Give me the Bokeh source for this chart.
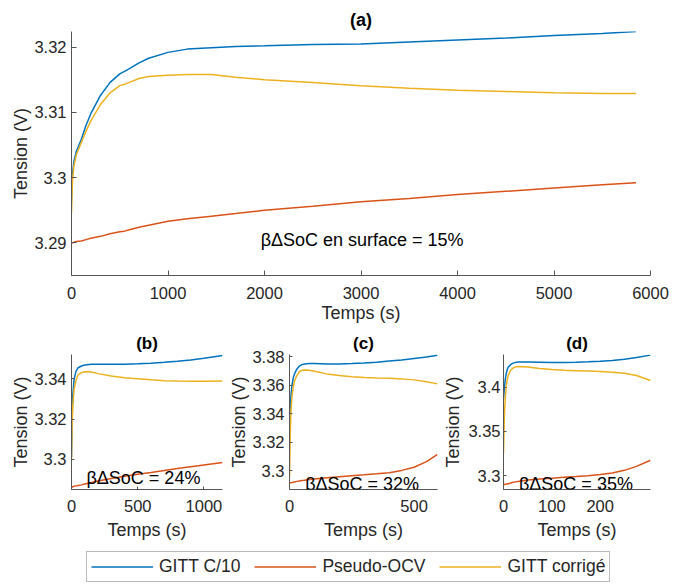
from bokeh.plotting import figure
from bokeh.layouts import column, row
from bokeh.models import Range1d, FixedTicker, Label
from bokeh.embed import file_html
from bokeh.resources import INLINE

BLUE = "#0072BD"
RED = "#D95319"
YEL = "#EDB120"
FONT = "Liberation Sans"
TXT = "#262626"
AX = "#555555"

# ---------------- data ----------------
series_names = ["GITT C/10", "Pseudo-OCV", "GITT corrigé"]

# (a)
t_a = [0, 10, 25, 50, 100, 150, 200, 300, 400, 500, 550, 600, 700, 800, 1000, 1200,
       1450, 1700, 2000, 2500, 3000, 3500, 4000, 4500, 5000, 5500, 5850]
gitt_a = [3.2965, 3.3005, 3.3025, 3.3040, 3.3058, 3.3080, 3.3098, 3.3126, 3.3146, 3.3159,
          3.3163, 3.3167, 3.3176, 3.3183, 3.3192, 3.3197, 3.3199, 3.3201, 3.3202, 3.3204,
          3.3205, 3.3208, 3.3211, 3.3214, 3.3218, 3.3221, 3.3224]
ocv_a = [3.2900, 3.2900, 3.2901, 3.2902, 3.2903, 3.2905, 3.2907, 3.2910, 3.2914, 3.2917,
         3.2918, 3.2920, 3.2924, 3.2927, 3.2933, 3.2937, 3.2941, 3.2945, 3.2950, 3.2956,
         3.2963, 3.2968, 3.2974, 3.2979, 3.2984, 3.2989, 3.2992]
corr_a = [3.2946, 3.2995, 3.3018, 3.3035, 3.3053, 3.3071, 3.3087, 3.3112, 3.3130, 3.3141,
          3.3143, 3.3146, 3.3152, 3.3155, 3.3157, 3.3158, 3.3158, 3.3154, 3.3150, 3.3146,
          3.3141, 3.3137, 3.3134, 3.3132, 3.3130, 3.3129, 3.3129]

# (b)
t_b = [0, 5, 10, 20, 35, 50, 75, 100, 150, 200, 300, 400, 500, 600, 700, 800, 900, 1000, 1140]
gitt_b = [3.301, 3.322, 3.332, 3.340, 3.3440, 3.3455, 3.3464, 3.3469, 3.3472, 3.3473, 3.3473,
          3.3473, 3.3475, 3.3478, 3.3482, 3.3487, 3.3494, 3.3502, 3.3516]
ocv_b = [3.2860, 3.2862, 3.2864, 3.2866, 3.2868, 3.2870, 3.2873, 3.2877, 3.2885, 3.2892,
         3.2905, 3.2916, 3.2926, 3.2935, 3.2945, 3.2954, 3.2963, 3.2972, 3.2984]
corr_b = [3.300, 3.318, 3.327, 3.335, 3.3395, 3.3420, 3.3431, 3.3435, 3.3434, 3.3426, 3.3414,
          3.3405, 3.3400, 3.3395, 3.3391, 3.3389, 3.3388, 3.3388, 3.3389]

# (c)
t_c = [0, 3, 6, 10, 15, 20, 30, 40, 50, 60, 80, 100, 150, 200, 250, 300, 350, 400, 450,
       500, 550, 594]
gitt_c = [3.333, 3.345, 3.353, 3.360, 3.365, 3.368, 3.3715, 3.3735, 3.3745, 3.3750, 3.3752,
          3.3752, 3.3750, 3.3750, 3.3752, 3.3756, 3.3762, 3.3770, 3.3778, 3.3788, 3.3798, 3.3810]
ocv_c = [3.2915, 3.2916, 3.2917, 3.2918, 3.2920, 3.2922, 3.2926, 3.2929, 3.2932, 3.2934,
         3.2939, 3.2943, 3.2952, 3.2959, 3.2966, 3.2972, 3.2979, 3.2987, 3.3003, 3.3025,
         3.3065, 3.3115]
corr_c = [3.2955, 3.325, 3.342, 3.352, 3.359, 3.363, 3.367, 3.3695, 3.3705, 3.3708, 3.3705,
          3.3698, 3.3680, 3.3668, 3.3660, 3.3655, 3.3652, 3.3650, 3.3645, 3.3638, 3.3625, 3.3610]

# (d)
t_d = [0, 2, 4, 6, 8, 10, 15, 20, 25, 30, 40, 50, 75, 100, 125, 150, 175, 200, 225, 250,
       275, 304]
gitt_d = [3.386, 3.400, 3.410, 3.416, 3.420, 3.4225, 3.4255, 3.4270, 3.4278, 3.4282, 3.4283,
          3.4282, 3.4280, 3.4278, 3.4278, 3.4280, 3.4284, 3.4290, 3.4300, 3.4314, 3.4334, 3.4360]
ocv_d = [3.2897, 3.2900, 3.2903, 3.2905, 3.2908, 3.2910, 3.2917, 3.2925, 3.2930, 3.2935,
         3.2943, 3.2950, 3.2962, 3.2972, 3.2981, 3.2990, 3.3000, 3.3013, 3.3030, 3.3060,
         3.3105, 3.3174]
corr_d = [3.325, 3.370, 3.390, 3.402, 3.409, 3.4135, 3.419, 3.4215, 3.4228, 3.4232, 3.4230,
          3.4225, 3.4210, 3.4198, 3.4190, 3.4185, 3.4180, 3.4174, 3.4166, 3.4156, 3.4130, 3.4074]

# ticks
xt_a = [0, 1000, 2000, 3000, 4000, 5000, 6000]
yt_a = [3.29, 3.30, 3.31, 3.32]
yl_a = ["3.29", "3.3", "3.31", "3.32"]
xt_b = [0, 500, 1000]
yt_b = [3.30, 3.32, 3.34]
yl_b = ["3.3", "3.32", "3.34"]
xt_c = [0, 500]
yt_c = [3.30, 3.32, 3.34, 3.36, 3.38]
yl_c = ["3.3", "3.32", "3.34", "3.36", "3.38"]
xt_d = [0, 100, 200]
yt_d = [3.30, 3.35, 3.40]
yl_d = ["3.3", "3.35", "3.4"]

titles = ["(a)", "(b)", "(c)", "(d)"]
notes = ["βΔSoC en surface = 15%", "βΔSoC = 24%", "βΔSoC = 32%", "βΔSoC = 35%"]


def make(title, t, ys, xr, yr, xt, yt, yl, note, note_xy, fw, fh, mbl, mbr, mbt, mbb,
         tick_len, title_size, xl_standoff, yl_standoff):
    p = figure(width=mbl + fw + mbr, height=mbt + fh + mbb,
               min_border_left=mbl, min_border_right=mbr,
               min_border_top=mbt, min_border_bottom=mbb,
               x_range=Range1d(*xr), y_range=Range1d(*yr),
               output_backend="svg", toolbar_location=None, title=title)
    p.outline_line_color = None
    p.grid.visible = False
    p.background_fill_color = "white"
    p.border_fill_color = "white"
    p.title.align = "center"
    p.title.text_font = FONT
    p.title.text_font_size = title_size
    p.title.text_font_style = "bold"
    p.title.text_color = "#000000"
    p.title.standoff = 3
    for ax in (p.xaxis[0], p.yaxis[0]):
        ax.major_tick_in = tick_len
        ax.major_tick_out = 0
        ax.minor_tick_line_color = None
        ax.axis_line_color = AX
        ax.major_tick_line_color = AX
        ax.major_label_text_font = FONT
        ax.major_label_text_font_size = "16.5px"
        ax.major_label_text_color = TXT
        ax.axis_label_text_font = FONT
        ax.axis_label_text_font_size = "18px"
        ax.axis_label_text_font_style = "normal"
        ax.axis_label_text_color = TXT
    p.xaxis.ticker = FixedTicker(ticks=xt)
    p.yaxis.ticker = FixedTicker(ticks=yt)
    p.yaxis.major_label_overrides = {float(k): v for k, v in zip(yt, yl)}
    p.xaxis.axis_label = "Temps (s)"
    p.yaxis.axis_label = "Tension (V)"
    p.xaxis.major_label_standoff = xl_standoff[0]
    p.xaxis.axis_label_standoff = xl_standoff[1]
    p.yaxis.major_label_standoff = yl_standoff[0]
    p.yaxis.axis_label_standoff = yl_standoff[1]
    for y, c in zip(ys, [BLUE, RED, YEL]):
        p.line(t, y, color=c, line_width=1.5)
    p.add_layout(Label(x=note_xy[0], y=note_xy[1], text=note, text_font=FONT,
                       text_font_size="18px", text_color="#000000",
                       text_baseline="middle", text_align="left"))
    return p


pa = make(titles[0], t_a, [gitt_a, ocv_a, corr_a], (0, 6000), (3.2850, 3.3224),
          xt_a, yt_a, yl_a, notes[0], (1960, 3.2905), 579, 244, 71, 34, 31, 55,
          5, "18px", (11, 1), (5, 0))
pb = make(titles[1], t_b, [gitt_b, ocv_b, corr_b], (0, 1140), (3.2850, 3.3521),
          xt_b, yt_b, yl_b, notes[1], (113, 3.2909), 151, 137, 71, 4, 22, 59,
          3, "17px", (10, 5), (5, 0))
pc = make(titles[2], t_c, [gitt_c, ocv_c, corr_c], (0, 594), (3.2869, 3.3816),
          xt_c, yt_c, yl_c, notes[2], (63, 3.2910), 151, 137, 60, 3, 22, 59,
          3, "17px", (10, 5), (5, 0))
pd_ = make(titles[3], t_d, [gitt_d, ocv_d, corr_d], (0, 304), (3.2844, 3.4367),
           xt_d, yt_d, yl_d, notes[3], (32, 3.2911), 151, 137, 59, 34, 22, 59,
           3, "17px", (10, 5), (3, 2))

# legend figure (sample lines kept outside the visible range)
pl = figure(width=684, height=37, min_border_left=71, min_border_right=34,
            min_border_top=0, min_border_bottom=0, output_backend="svg",
            toolbar_location=None, x_range=Range1d(0, 1), y_range=Range1d(0, 1))
pl.outline_line_color = None
pl.grid.visible = False
pl.axis.visible = False
pl.border_fill_color = "white"
for name, c in zip(series_names, [BLUE, RED, YEL]):
    pl.line([5, 6], [5, 6], color=c, line_width=1.5, legend_label=name)
lg = pl.legend[0]
lg.orientation = "horizontal"
lg.location = (15, 3)
lg.margin = 0
lg.padding = 4
lg.spacing = 14
lg.glyph_width = 62
lg.glyph_height = 21
lg.label_height = 21
lg.label_standoff = 6
lg.label_text_font = FONT
lg.label_text_font_size = "17.5px"
lg.label_text_color = TXT
lg.border_line_color = "#777777"
lg.border_line_width = 1
lg.background_fill_alpha = 1.0

layout = column(pa, row(pb, pc, pd_), pl)
open("out.html", "w").write(file_html(layout, INLINE))
